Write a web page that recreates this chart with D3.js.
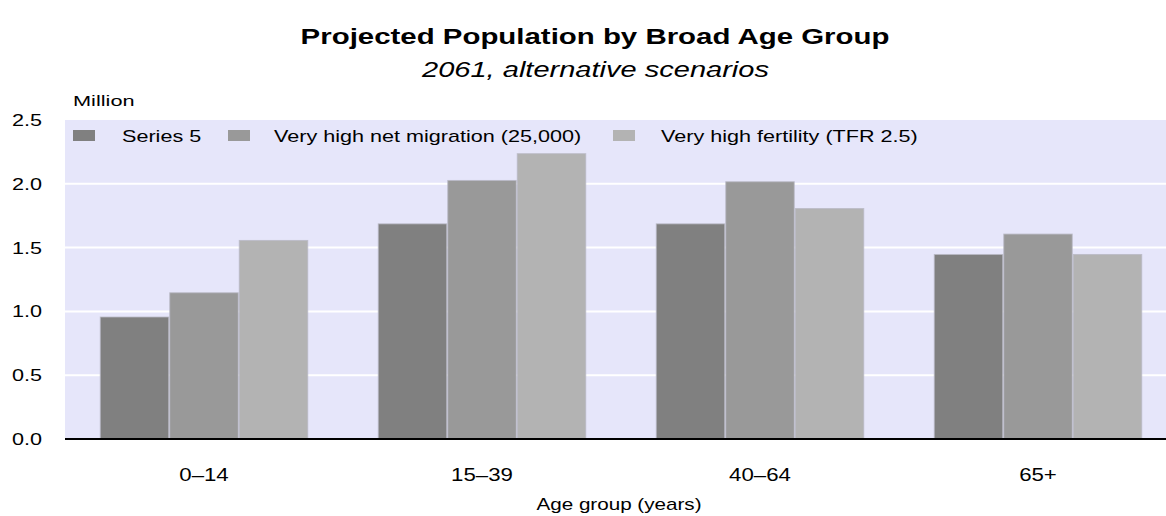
<!DOCTYPE html>
<html>
<head>
<meta charset="utf-8">
<script src="https://cdn.jsdelivr.net/npm/d3@7"></script>
<style>
  html, body { margin: 0; padding: 0; background: #ffffff; }
  svg { display: block; }
  text { font-family: "Liberation Sans", Arial, sans-serif; fill: #000; }
</style>
</head>
<body>
<div id="chart"></div>
<script>
// ---- Data ----
const categories = ["0–14", "15–39", "40–64", "65+"];
const seriesNames = ["Series 5", "Very high net migration (25,000)", "Very high fertility (TFR 2.5)"];
const series5 = [0.96, 1.69, 1.69, 1.45];
const highMigration = [1.15, 2.03, 2.02, 1.61];
const highFertility = [1.56, 2.24, 1.81, 1.45];
const yTicks = [0.0, 0.5, 1.0, 1.5, 2.0, 2.5];
const seriesColors = ["#808080", "#999999", "#b3b3b3"];

const titleText = "Projected Population by Broad Age Group";
const subtitleText = "2061, alternative scenarios";
const yUnitText = "Million";
const xAxisTitle = "Age group (years)";

// ---- Layout ----
const W = 1166, H = 516;
const plot = { left: 65, right: 1177, top: 120, bottom: 439 };

const svg = d3.select("#chart").append("svg")
  .attr("width", W).attr("height", H);

// text with horizontal stretch (the reference's text is wide)
function stext(x, y, str, opts = {}) {
  const sx = opts.sx || 1.3;
  const g = svg.append("g").attr("transform", `translate(${x},${y}) scale(${sx},1)`);
  return g.append("text")
    .attr("x", 0).attr("y", 0)
    .attr("text-anchor", opts.anchor || "start")
    .style("font-size", (opts.size || 13) + "px")
    .style("font-weight", opts.weight || "normal")
    .style("font-style", opts.style || "normal")
    .text(str);
}

const x0 = d3.scaleBand().domain(categories)
  .range([plot.left, plot.right]).paddingInner(0.25).paddingOuter(0.125);
const x1 = d3.scaleBand().domain(d3.range(seriesNames.length))
  .range([0, x0.bandwidth()]).padding(0);
const y = d3.scaleLinear().domain([0, 2.5]).range([plot.bottom, plot.top]);

// Plot background
svg.append("rect")
  .attr("x", plot.left).attr("y", y(2.5))
  .attr("width", plot.right - plot.left).attr("height", y(0) - y(2.5))
  .attr("fill", "#e6e6fa");

// Gridlines
svg.append("g").selectAll("line")
  .data(yTicks.filter(d => d > 0 && d < 2.5))
  .join("line")
  .attr("x1", plot.left).attr("x2", plot.right)
  .attr("y1", d => y(d)).attr("y2", d => y(d))
  .attr("stroke", "#ffffff").attr("stroke-width", 2);

// Bars
const allSeries = [series5, highMigration, highFertility];
const barData = [];
categories.forEach((c, i) => {
  allSeries.forEach((s, j) => barData.push({ cat: c, s: j, v: s[i] }));
});
svg.append("g").selectAll("rect")
  .data(barData)
  .join("rect")
  .attr("x", d => x0(d.cat) + x1(d.s) + 0.5)
  .attr("y", d => y(d.v) + 0.5)
  .attr("width", x1.bandwidth() - 1)
  .attr("height", d => y(0) - y(d.v) - 0.5)
  .attr("fill", d => seriesColors[d.s])
  .attr("stroke", "#b9b9c6").attr("stroke-width", 1).attr("stroke-opacity", 0.8);

// Baseline
svg.append("line")
  .attr("x1", plot.left).attr("x2", plot.right)
  .attr("y1", y(0)).attr("y2", y(0))
  .attr("stroke", "#000").attr("stroke-width", 2);

// Y tick labels
yTicks.forEach(t => {
  stext(42, y(t) + 6, d3.format(".1f")(t), { size: 17, sx: 1.27, anchor: "end" });
});
stext(73, 106, yUnitText, { size: 15, sx: 1.45 });

// X labels
categories.forEach(c => {
  stext(x0(c) + x0.bandwidth() / 2, 481, c, { anchor: "middle", size: 17.5, sx: 1.27 });
});
stext(619, 510, xAxisTitle, { anchor: "middle", size: 16, sx: 1.29 });

// Title / subtitle
stext(595, 44, titleText, { anchor: "middle", size: 22, sx: 1.337, weight: "bold" });
stext(595.5, 77, subtitleText, { anchor: "middle", size: 22, sx: 1.32, style: "italic" });

// Legend
const legendX = [73, 228, 613];
const legendTextX = [122, 274, 661];
seriesNames.forEach((n, i) => {
  svg.append("rect")
    .attr("x", legendX[i]).attr("y", 130)
    .attr("width", 22).attr("height", 11)
    .attr("fill", seriesColors[i]);
  stext(legendTextX[i], 141.5, n, { size: 16, sx: 1.35 });
});
</script>
</body>
</html>
